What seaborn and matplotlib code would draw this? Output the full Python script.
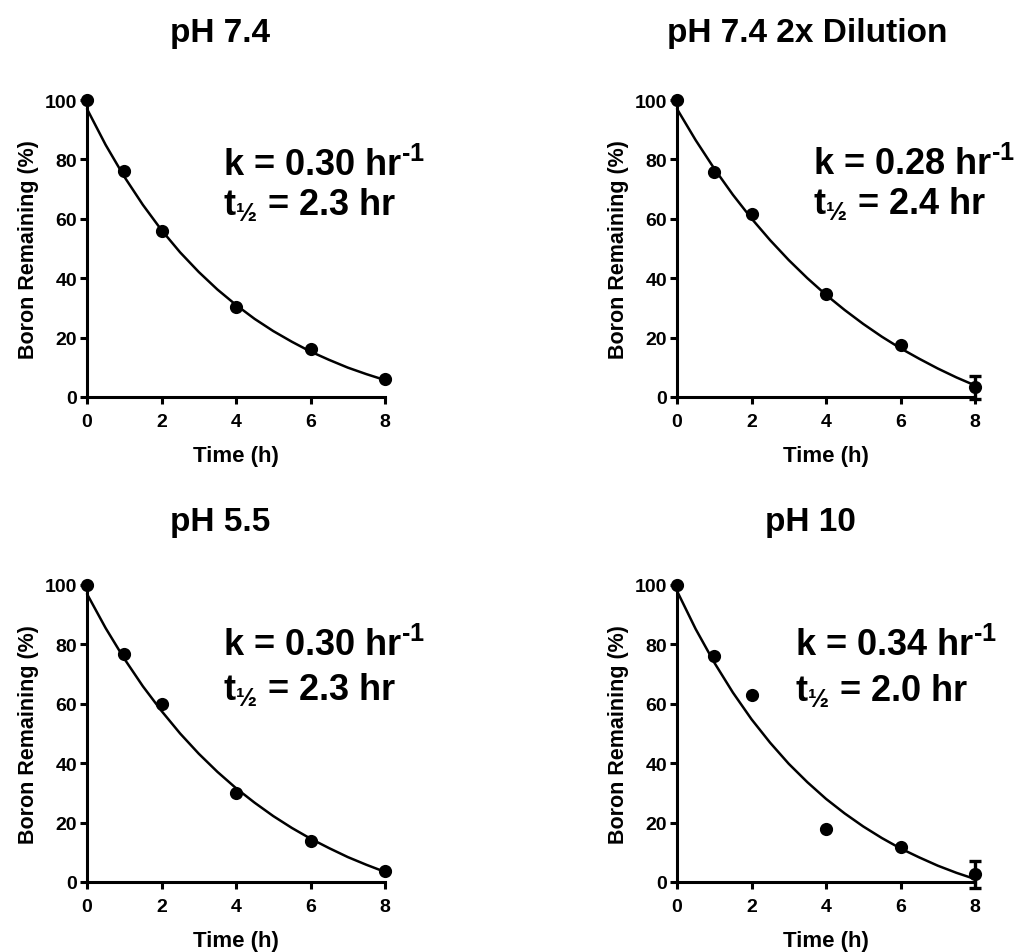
import numpy as np
import pandas as pd
import matplotlib
matplotlib.use("Agg")
import matplotlib.pyplot as plt
import seaborn as sns

sns.set_theme(style="ticks")
plt.rcParams['font.family'] = ['Liberation Sans', 'DejaVu Sans']
plt.rcParams['font.weight'] = 'bold'
plt.rcParams['mathtext.fontset'] = 'custom'
plt.rcParams['mathtext.rm'] = 'Liberation Sans:bold'
plt.rcParams['mathtext.bf'] = 'Liberation Sans:bold'
plt.rcParams['mathtext.it'] = 'Liberation Sans:bold'
plt.rcParams['mathtext.default'] = 'rm'

# ---- data ----
titles = ["pH 7.4", "pH 7.4 2x Dilution", "pH 5.5", "pH 10"]
k_labels = ["0.30", "0.28", "0.30", "0.34"]
thalf_labels = ["2.3", "2.4", "2.3", "2.0"]

time_pts = [0, 1, 2, 4, 6, 8]
boron_ph74 = [100, 76.1, 56.0, 30.3, 16.0, 6.2]
boron_ph74_dil = [100, 75.8, 61.6, 34.7, 17.4, 3.2]
boron_ph55 = [100, 76.8, 59.8, 29.8, 13.8, 3.7]
boron_ph10 = [100, 76.2, 63.1, 18.0, 11.8, 2.6]

err_ph74 = [0, 0, 0, 0, 0, 0]
err_ph74_dil = [0, 0, 0, 0, 0, 4.0]
err_ph55 = [0, 0, 0, 0, 0, 0]
err_ph10 = [0, 0, 0, 0, 0, 4.6]

# fitted curves, every 0.5 h
curve_time = [0, 0.5, 1, 1.5, 2, 2.5, 3, 3.5, 4, 4.5, 5, 5.5, 6, 6.5, 7, 7.5, 8]
curve_ph74 = [97, 84.9, 74.2, 64.7, 56.2, 48.7, 42.1, 36.2, 31.0, 26.3, 22.2, 18.6, 15.3, 12.5, 9.9, 7.7, 5.7]
curve_ph74_dil = [97, 86.5, 76.9, 68.1, 60.1, 52.8, 46.1, 40.0, 34.4, 29.3, 24.6, 20.3, 16.4, 12.9, 9.6, 6.6, 3.9]
curve_ph55 = [97, 85.5, 75.2, 65.9, 57.6, 50.0, 43.2, 37.1, 31.6, 26.7, 22.2, 18.2, 14.6, 11.4, 8.4, 5.8, 3.4]
curve_ph10 = [98, 85.2, 73.9, 63.8, 54.8, 46.9, 39.8, 33.6, 28.0, 23.1, 18.7, 14.8, 11.3, 8.3, 5.5, 3.1, 1.0]

points = [boron_ph74, boron_ph74_dil, boron_ph55, boron_ph10]
errors = [err_ph74, err_ph74_dil, err_ph55, err_ph10]
curves = [curve_ph74, curve_ph74_dil, curve_ph55, curve_ph10]

W, H = 1015, 953
fig = plt.figure(figsize=(W / 100, H / 100), dpi=100)

# axes boxes in pixels: (left, top, right, bottom)
boxes = [(87, 101, 385, 398), (677, 101, 975, 398),
         (87, 586, 385, 883), (677, 586, 975, 883)]
title_xy = [(220, 42), (807, 42), (220, 531), (810, 531)]
# annotation anchor (axes fraction): x, line1 baseline, line2 baseline
ann_pos = [(0.455, 0.747, 0.616), (0.455, 0.750, 0.619),
           (0.455, 0.764, 0.616), (0.396, 0.764, 0.613)]

for i in range(4):
    l, t, r, b = boxes[i]
    ax = fig.add_axes([l / W, 1 - b / H, (r - l) / W, (b - t) / H])
    df_c = pd.DataFrame({"Time": curve_time, "Boron": curves[i]})
    sns.lineplot(data=df_c, x="Time", y="Boron", ax=ax, color="black",
                 linewidth=1.8, zorder=2)
    ax.lines[-1].set_clip_on(False)
    df_p = pd.DataFrame({"Time": time_pts, "Boron": points[i], "err": errors[i]})
    ax.errorbar(df_p["Time"], df_p["Boron"], yerr=df_p["err"], fmt="none",
                ecolor="black", elinewidth=2.4, capsize=4, capthick=2.4,
                zorder=3, clip_on=False)
    sns.scatterplot(data=df_p, x="Time", y="Boron", ax=ax, color="black",
                    s=90, edgecolor="black", linewidth=0, zorder=4, clip_on=False)

    ax.set_xlim(0, 8)
    ax.set_ylim(0, 100)
    ax.set_xticks([0, 2, 4, 6, 8])
    ax.set_yticks([0, 20, 40, 60, 80, 100])
    for s in ["top", "right"]:
        ax.spines[s].set_visible(False)
    for s in ["left", "bottom"]:
        ax.spines[s].set_linewidth(2.2)
        ax.spines[s].set_color("black")
    ax.tick_params(axis="both", direction="out", length=5, width=2.2,
                   colors="black", labelsize=14)
    ax.tick_params(axis="x", pad=6.5)
    ax.tick_params(axis="y", pad=2)
    for lab in ax.get_xticklabels() + ax.get_yticklabels():
        lab.set_fontweight("bold")
    ax.set_xlabel("Time (h)", fontsize=16, fontweight="bold", labelpad=11,
                  color="black")
    ax.set_ylabel("Boron Remaining (%)", fontsize=15.5, fontweight="bold",
                  labelpad=4, color="black")

    ax_x, y1, y2 = ann_pos[i]
    ax.text(ax_x, y1, "k = " + k_labels[i] + r" hr$^{\text{-1}}$",
            transform=ax.transAxes, fontsize=26, fontweight="bold",
            color="black", ha="left", va="baseline")
    ax.text(ax_x, y2, r"t$_{\text{½}}$ = " + thalf_labels[i] + " hr",
            transform=ax.transAxes, fontsize=26, fontweight="bold",
            color="black", ha="left", va="baseline")

    tx, ty = title_xy[i]
    fig.text(tx / W, 1 - ty / H, titles[i], fontsize=24, fontweight="bold",
             ha="center", va="baseline", color="black")

fig.savefig("out.png", dpi=100, facecolor="white")
